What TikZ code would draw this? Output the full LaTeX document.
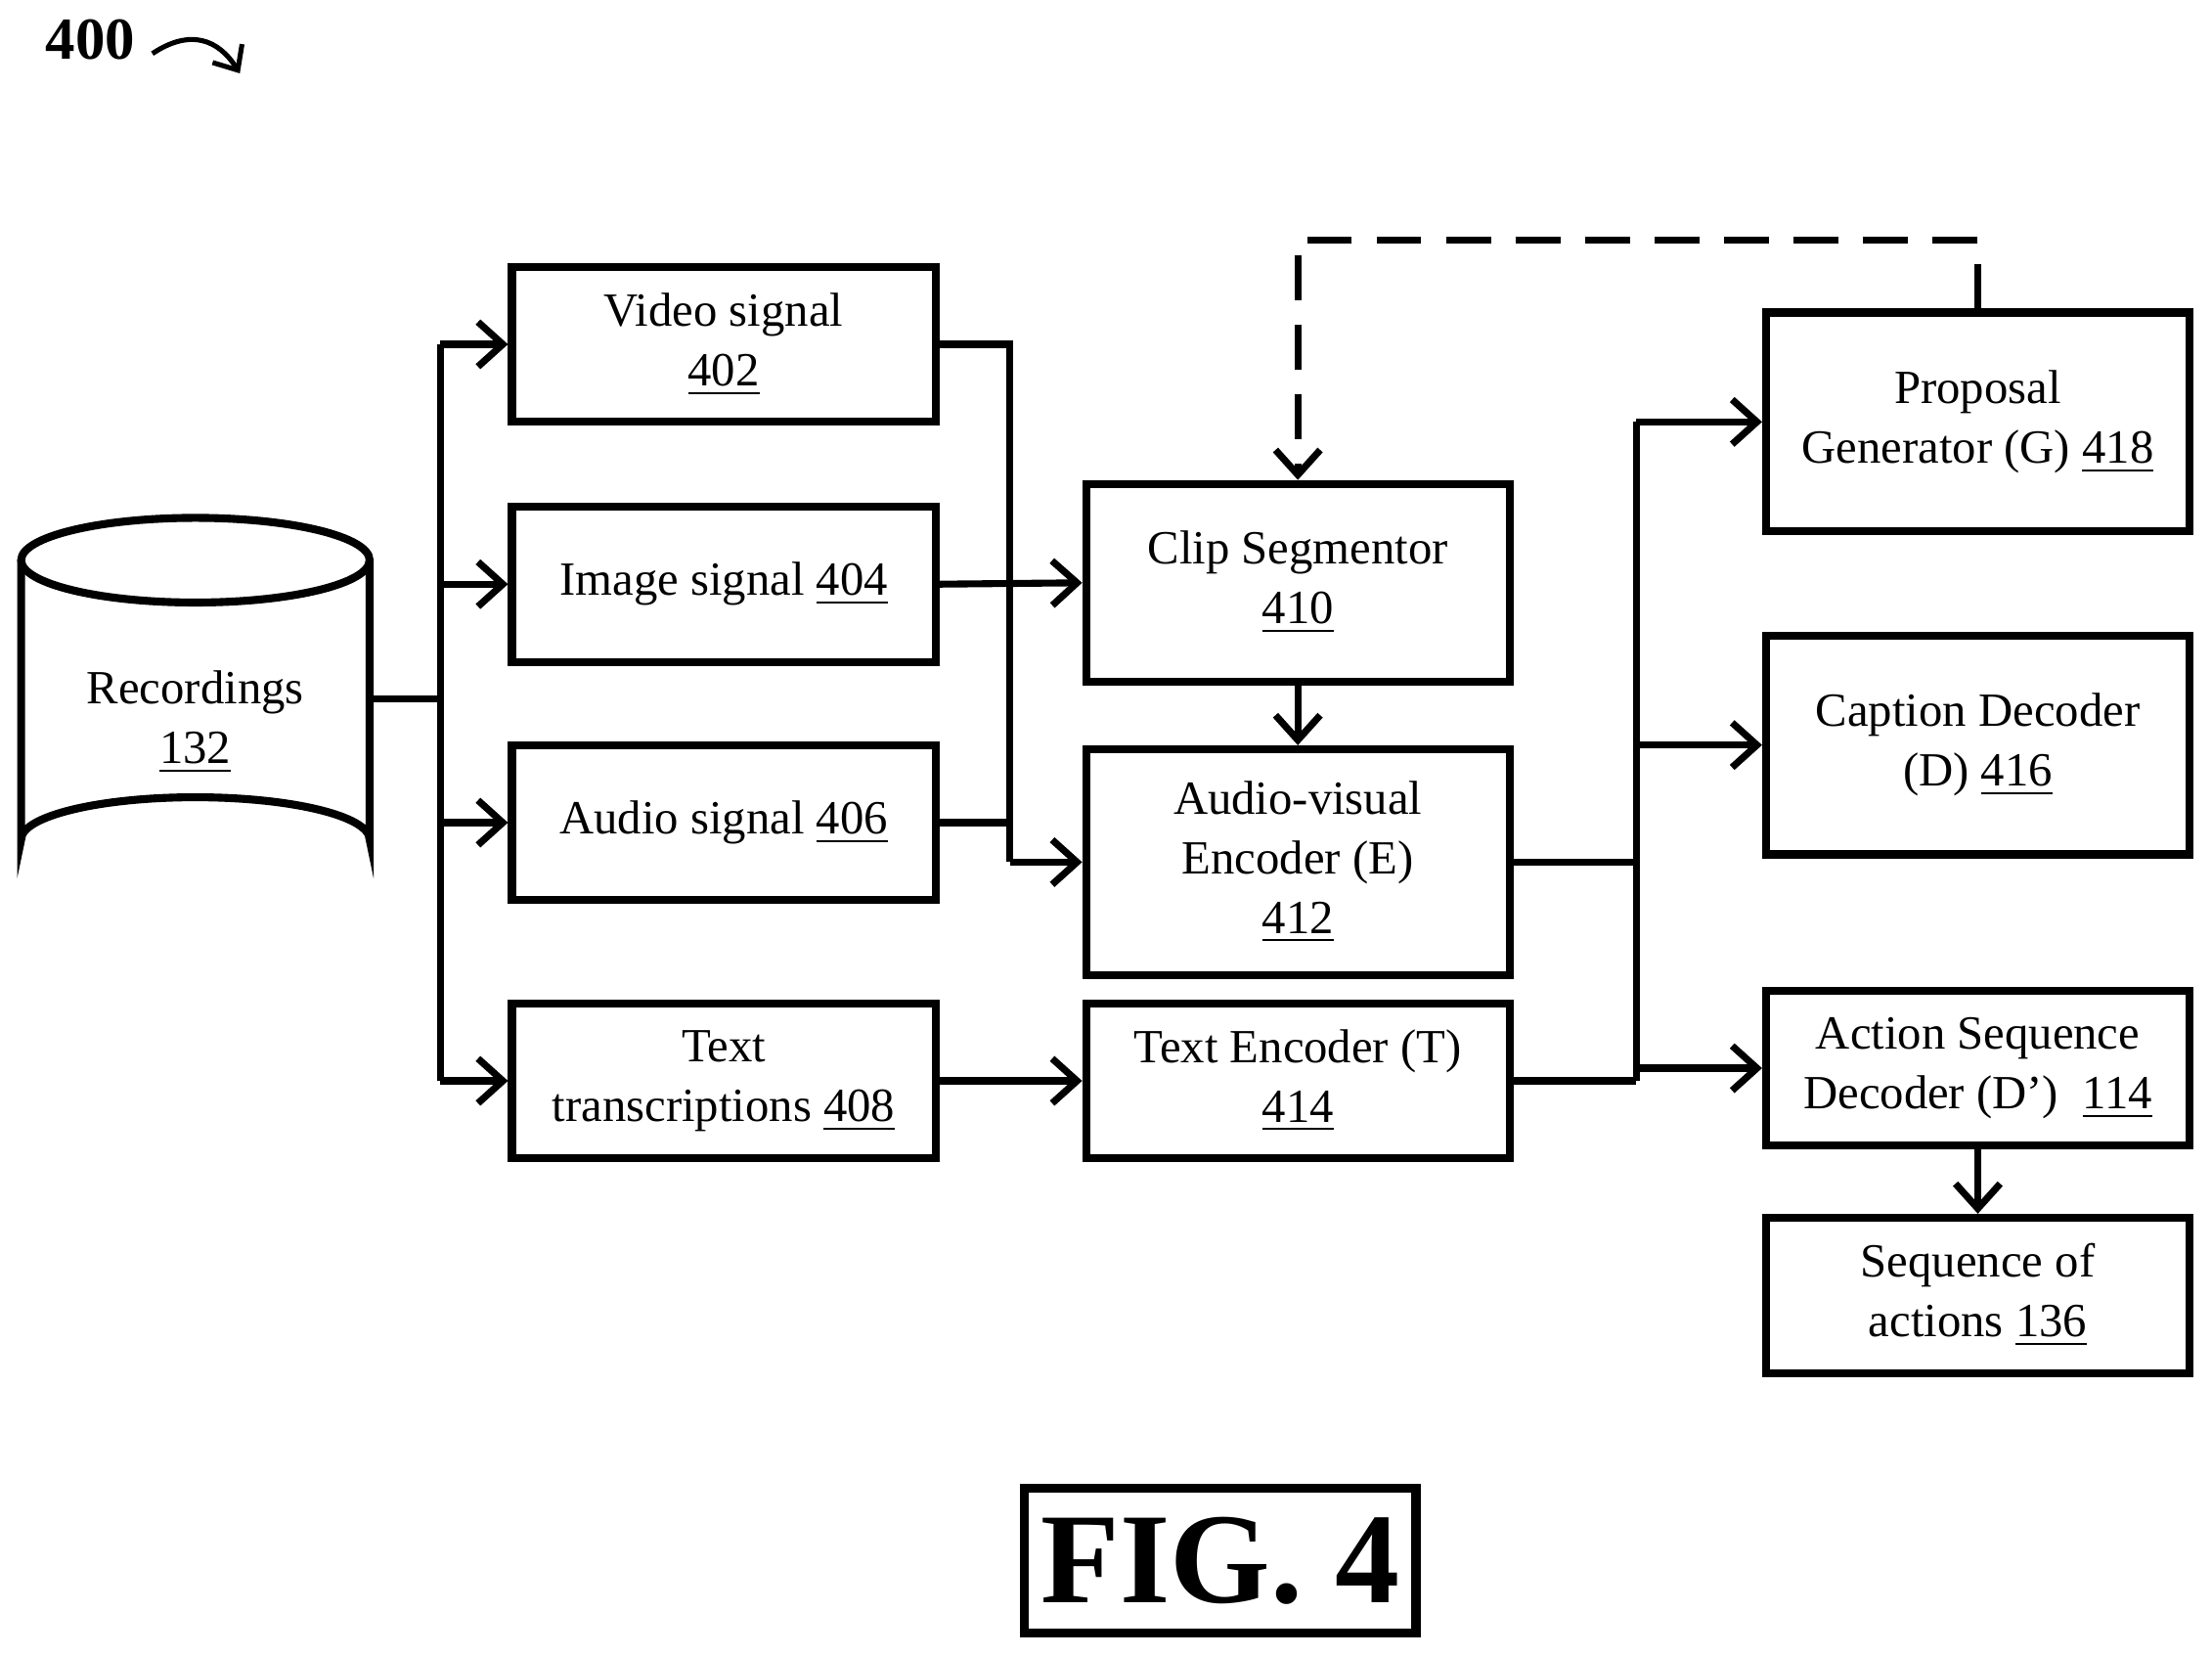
\documentclass[tikz,border=0pt]{standalone}
\usepackage{fontspec}
\setmainfont{Liberation Serif}
\usetikzlibrary{arrows.meta}
\begin{document}
\begin{tikzpicture}[x=0.01cm,y=-0.01cm,
  box/.style={draw,line width=1.6pt,minimum width=3cm,align=center,font=\fontsize{9.6}{12}\selectfont,inner sep=0pt},
  ar/.style={line width=1.4pt,-{Straight Barb[length=5pt,width=9pt,line width=1.4pt]}},
  ln/.style={line width=1.4pt}]
\useasboundingbox (0,0) rectangle (1568,1173);
\node[font=\bfseries\fontsize{12}{14}\selectfont] (n400) at (64,28) {400};
\draw[line width=1pt,-{Straight Barb[length=4pt,width=7pt]}] (108,38) .. controls (135,20) and (155,28) .. (170,52);
% cylinder
\draw[line width=1.6pt] (15,397) -- (15,595) arc[start angle=180,end angle=360,x radius=123.5,y radius=30] -- (262,397);
\draw[line width=1.6pt] (138.5,397) ellipse[x radius=123.5,y radius=30];
\node[box,draw=none] (rec) at (138.5,512) {Recordings\\\underline{132}};
\coordinate (recR) at (262,495);
\node[box,minimum height=1.1cm] (v) at (513,244) {Video signal\\\underline{402}};
\node[box,minimum height=1.1cm] (im) at (513,414) {Image signal \underline{404}};
\node[box,minimum height=1.1cm] (au) at (513,583) {Audio signal \underline{406}};
\node[box,minimum height=1.1cm] (tt) at (513,766) {Text\\transcriptions \underline{408}};
\node[box,minimum height=1.4cm] (clip) at (920,413) {Clip Segmentor\\\underline{410}};
\node[box,minimum height=1.6cm] (av) at (920,611) {Audio-visual\\Encoder (E)\\\underline{412}};
\node[box,minimum height=1.1cm] (te) at (920,766) {Text Encoder (T)\\\underline{414}};
\node[box,minimum height=1.55cm] (pg) at (1402,299) {Proposal\\Generator (G) \underline{418}};
\node[box,minimum height=1.55cm] (cd) at (1402,528) {Caption Decoder\\(D) \underline{416}};
\node[box,minimum height=1.1cm] (ad) at (1402,757) {Action Sequence\\Decoder (D')~~\underline{114}};
\node[box,minimum height=1.1cm] (sq) at (1402,918) {Sequence of\\actions \underline{136}};
\node[draw,line width=1.8pt,minimum width=2.25cm,minimum height=1.02cm,font=\bfseries\fontsize{26}{28}\selectfont] (fig) at (865,1106) {FIG. 4};
% left bus
\draw[ln] (recR) -- (312,495);
\draw[ln] (312,244) -- (312,766);
\draw[ar] (312,244) -- (v.west);
\draw[ar] (312,414) -- (im.west);
\draw[ar] (312,583) -- (au.west);
\draw[ar] (312,766) -- (tt.west);
\draw[ln] (v.east) -- (716,244) -- (716,611);
\draw[ln] (au.east) -- (716,583);
\draw[ar] (716,611) -- (av.west);
\draw[ar] (im.east) -- (clip.west);
\draw[ar] (tt.east) -- (te.west);
\draw[ar] (clip.south) -- (av.north);
\draw[ar,dashed,dash pattern=on 9pt off 5pt] (pg.north) -- (1402,170) -- (920,170) -- (clip.north);
% right bus
\draw[ln] (av.east) -- (1160,611);
\draw[ln] (te.east) -- (1160,766);
\draw[ln] (1160,299) -- (1160,766);
\draw[ar] (1160,299) -- (pg.west);
\draw[ar] (1160,528) -- (cd.west);
\draw[ar] (1160,757) -- (ad.west);
\draw[ar] (ad.south) -- (sq.north);
\end{tikzpicture}
\end{document}
